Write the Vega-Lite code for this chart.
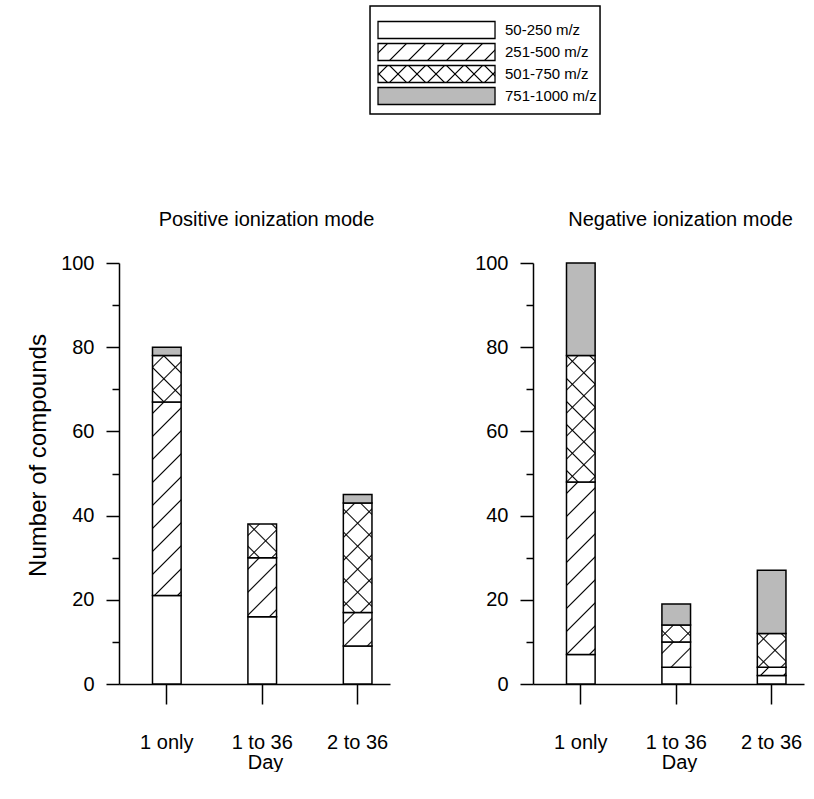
{
  "$schema": "https://vega.github.io/schema/vega-lite/v6.json",
  "padding": {"left": 26, "top": 5, "right": 3, "bottom": 0},
  "background": "white",
  "config": {
    "view": {"stroke": null},
    "font": "Liberation Sans",
    "axis": {"domainColor": "#000", "tickColor": "#000", "labelColor": "#000", "titleColor": "#000", "labelFont": "Liberation Sans", "titleFont": "Liberation Sans", "labelFontSize": 20, "titleFontSize": 20, "titleFontWeight": "normal", "grid": false, "domainWidth": 1.5, "tickWidth": 1.5},
    "title": {"font": "Liberation Sans", "fontSize": 20, "fontWeight": "normal", "color": "#000"},
    "text": {"font": "Liberation Sans"}
  },
  "datasets": {
    "bars": [
      {"mode": "Positive", "day": "1 only", "range": "50-250 m/z", "mz": 50, "n": 21},
      {"mode": "Positive", "day": "1 only", "range": "251-500 m/z", "mz": 251, "n": 46},
      {"mode": "Positive", "day": "1 only", "range": "501-750 m/z", "mz": 501, "n": 11},
      {"mode": "Positive", "day": "1 only", "range": "751-1000 m/z", "mz": 751, "n": 2},
      {"mode": "Positive", "day": "1 to 36", "range": "50-250 m/z", "mz": 50, "n": 16},
      {"mode": "Positive", "day": "1 to 36", "range": "251-500 m/z", "mz": 251, "n": 14},
      {"mode": "Positive", "day": "1 to 36", "range": "501-750 m/z", "mz": 501, "n": 8},
      {"mode": "Positive", "day": "1 to 36", "range": "751-1000 m/z", "mz": 751, "n": 0},
      {"mode": "Positive", "day": "2 to 36", "range": "50-250 m/z", "mz": 50, "n": 9},
      {"mode": "Positive", "day": "2 to 36", "range": "251-500 m/z", "mz": 251, "n": 8},
      {"mode": "Positive", "day": "2 to 36", "range": "501-750 m/z", "mz": 501, "n": 26},
      {"mode": "Positive", "day": "2 to 36", "range": "751-1000 m/z", "mz": 751, "n": 2},
      {"mode": "Negative", "day": "1 only", "range": "50-250 m/z", "mz": 50, "n": 7},
      {"mode": "Negative", "day": "1 only", "range": "251-500 m/z", "mz": 251, "n": 41},
      {"mode": "Negative", "day": "1 only", "range": "501-750 m/z", "mz": 501, "n": 30},
      {"mode": "Negative", "day": "1 only", "range": "751-1000 m/z", "mz": 751, "n": 22},
      {"mode": "Negative", "day": "1 to 36", "range": "50-250 m/z", "mz": 50, "n": 4},
      {"mode": "Negative", "day": "1 to 36", "range": "251-500 m/z", "mz": 251, "n": 6},
      {"mode": "Negative", "day": "1 to 36", "range": "501-750 m/z", "mz": 501, "n": 4},
      {"mode": "Negative", "day": "1 to 36", "range": "751-1000 m/z", "mz": 751, "n": 5},
      {"mode": "Negative", "day": "2 to 36", "range": "50-250 m/z", "mz": 50, "n": 2},
      {"mode": "Negative", "day": "2 to 36", "range": "251-500 m/z", "mz": 251, "n": 2},
      {"mode": "Negative", "day": "2 to 36", "range": "501-750 m/z", "mz": 501, "n": 8},
      {"mode": "Negative", "day": "2 to 36", "range": "751-1000 m/z", "mz": 751, "n": 15}
    ]
  },
  "spacing": 95,
  "vconcat": [
    {
      "width": 680,
      "height": 108,
      "data": {"name": "bars"},
      "transform": [{"aggregate": [{"op": "count", "as": "c"}], "groupby": ["range", "mz"]}],
      "layer": [
        {
          "transform": [{"filter": "datum.mz === 50"}],
          "mark": {"type": "rect", "fill": null, "stroke": "#000", "strokeWidth": 1.5},
          "encoding": {
            "x": {"datum": 0.36915, "type": "quantitative", "scale": {"domain": [0, 1], "nice": false, "zero": false}, "axis": null},
            "x2": {"datum": 0.7074},
            "y": {"value": 0},
            "y2": {"value": "height"}
          }
        },
        {
          "mark": {"type": "rect", "stroke": "#000", "strokeWidth": 1.3, "fill": {"expr": "datum.mz === 751 ? '#bababa' : '#ffffff'"}},
          "encoding": {
            "x": {"datum": 0.38091, "type": "quantitative"},
            "x2": {"datum": 0.55297},
            "y": {"field": "range", "type": "nominal", "sort": ["50-250 m/z", "251-500 m/z", "501-750 m/z", "751-1000 m/z"], "scale": {"paddingInner": 0.227, "paddingOuter": 0.568, "align": 0.62}, "axis": null}
          }
        },
        {
          "transform": [{"filter": "datum.mz === 251 || datum.mz === 501"}],
          "mark": {"type": "rect", "strokeWidth": 0, "fill": {"gradient": "linear", "x1": 0, "y1": 0, "x2": 1.1216, "y2": 0.163, "stops": [
            {"offset": 0.0597, "color": "transparent"}, {"offset": 0.0709, "color": "#000"}, {"offset": 0.08209, "color": "transparent"},
            {"offset": 0.20149, "color": "transparent"}, {"offset": 0.21269, "color": "#000"}, {"offset": 0.22388, "color": "transparent"},
            {"offset": 0.34328, "color": "transparent"}, {"offset": 0.35448, "color": "#000"}, {"offset": 0.36567, "color": "transparent"},
            {"offset": 0.48507, "color": "transparent"}, {"offset": 0.49627, "color": "#000"}, {"offset": 0.50746, "color": "transparent"},
            {"offset": 0.62687, "color": "transparent"}, {"offset": 0.63806, "color": "#000"}, {"offset": 0.64925, "color": "transparent"},
            {"offset": 0.76866, "color": "transparent"}, {"offset": 0.77985, "color": "#000"}, {"offset": 0.79104, "color": "transparent"},
            {"offset": 0.91045, "color": "transparent"}, {"offset": 0.92164, "color": "#000"}, {"offset": 0.93284, "color": "transparent"}
          ]}},
          "encoding": {
            "x": {"datum": 0.38091, "type": "quantitative"},
            "x2": {"datum": 0.55297},
            "y": {"field": "range", "type": "nominal", "sort": ["50-250 m/z", "251-500 m/z", "501-750 m/z", "751-1000 m/z"]}
          }
        },
        {
          "transform": [{"filter": "datum.mz === 501"}],
          "mark": {"type": "rect", "strokeWidth": 0, "fill": {"gradient": "linear", "x1": 0, "y1": 1, "x2": 1.1216, "y2": 0.837, "stops": [
            {"offset": 0.0597, "color": "transparent"}, {"offset": 0.0709, "color": "#000"}, {"offset": 0.08209, "color": "transparent"},
            {"offset": 0.20149, "color": "transparent"}, {"offset": 0.21269, "color": "#000"}, {"offset": 0.22388, "color": "transparent"},
            {"offset": 0.34328, "color": "transparent"}, {"offset": 0.35448, "color": "#000"}, {"offset": 0.36567, "color": "transparent"},
            {"offset": 0.48507, "color": "transparent"}, {"offset": 0.49627, "color": "#000"}, {"offset": 0.50746, "color": "transparent"},
            {"offset": 0.62687, "color": "transparent"}, {"offset": 0.63806, "color": "#000"}, {"offset": 0.64925, "color": "transparent"},
            {"offset": 0.76866, "color": "transparent"}, {"offset": 0.77985, "color": "#000"}, {"offset": 0.79104, "color": "transparent"},
            {"offset": 0.91045, "color": "transparent"}, {"offset": 0.92164, "color": "#000"}, {"offset": 0.93284, "color": "transparent"}
          ]}},
          "encoding": {
            "x": {"datum": 0.38091, "type": "quantitative"},
            "x2": {"datum": 0.55297},
            "y": {"field": "range", "type": "nominal", "sort": ["50-250 m/z", "251-500 m/z", "501-750 m/z", "751-1000 m/z"]}
          }
        },
        {
          "mark": {"type": "text", "align": "left", "baseline": "middle", "fontSize": 15, "color": "#000"},
          "encoding": {
            "x": {"datum": 0.56768, "type": "quantitative"},
            "y": {"field": "range", "type": "nominal", "sort": ["50-250 m/z", "251-500 m/z", "501-750 m/z", "751-1000 m/z"]},
            "text": {"field": "range"}
          }
        }
      ]
    },
    {
      "spacing": 84,
      "hconcat": [
        {
          "width": 271,
          "height": 421,
          "title": {"text": "Positive ionization mode", "offset": 23, "fontSize": 20, "dx": 12},
          "data": {"name": "bars"},
          "transform": [
            {"filter": "datum.mode === 'Positive'"},
            {"stack": "n", "groupby": ["day"], "sort": [{"field": "mz", "order": "ascending"}], "as": ["lo", "hi"]},
            {"filter": "datum.n > 0"}
          ],
          "encoding": {
            "x": {"field": "day", "type": "nominal", "sort": ["1 only", "1 to 36", "2 to 36"], "scale": {"paddingInner": 0.7, "paddingOuter": 0.27, "align": 0.65}, "axis": {"title": "Day", "titleX": 146, "labelAngle": 0, "tickSize": 20, "labelPadding": 28, "titlePadding": 0}},
            "y": {"field": "lo", "type": "quantitative", "scale": {"domain": [0, 100], "nice": false}, "axis": {"title": "Number of compounds", "titleFontSize": 24, "titleY": 192, "values": [0, 10, 20, 30, 40, 50, 60, 70, 80, 90, 100], "labelExpr": "datum.value % 20 === 0 ? datum.label : ''", "tickSize": {"condition": {"test": "datum.value % 20 !== 0", "value": 7}, "value": 13}, "labelPadding": 12, "titlePadding": 10}},
            "y2": {"field": "hi"}
          },
          "layer": [
            {"mark": {"type": "bar", "stroke": "#000", "strokeWidth": 1.5, "fill": {"expr": "datum.mz === 751 ? '#bababa' : '#ffffff'"}}},
            {
              "transform": [{"filter": "datum.mz === 251 || datum.mz === 501"}],
              "mark": {"type": "bar", "strokeWidth": 0, "fill": {"expr": "{gradient:'linear',x1:0,y1:0,x2:28.6*(28.6+4.21*(datum.hi-datum.lo))/(817.96+pow(4.21*(datum.hi-datum.lo),2)),y2:4.21*(datum.hi-datum.lo)*(28.6+4.21*(datum.hi-datum.lo))/(817.96+pow(4.21*(datum.hi-datum.lo),2)),stops:[{offset:min(1,10/(28.6+4.21*(datum.hi-datum.lo))),color:'transparent'},{offset:min(1,11.5/(28.6+4.21*(datum.hi-datum.lo))),color:'#000'},{offset:min(1,13/(28.6+4.21*(datum.hi-datum.lo))),color:'transparent'},{offset:min(1,33/(28.6+4.21*(datum.hi-datum.lo))),color:'transparent'},{offset:min(1,34.5/(28.6+4.21*(datum.hi-datum.lo))),color:'#000'},{offset:min(1,36/(28.6+4.21*(datum.hi-datum.lo))),color:'transparent'},{offset:min(1,56/(28.6+4.21*(datum.hi-datum.lo))),color:'transparent'},{offset:min(1,57.5/(28.6+4.21*(datum.hi-datum.lo))),color:'#000'},{offset:min(1,59/(28.6+4.21*(datum.hi-datum.lo))),color:'transparent'},{offset:min(1,79/(28.6+4.21*(datum.hi-datum.lo))),color:'transparent'},{offset:min(1,80.5/(28.6+4.21*(datum.hi-datum.lo))),color:'#000'},{offset:min(1,82/(28.6+4.21*(datum.hi-datum.lo))),color:'transparent'},{offset:min(1,102/(28.6+4.21*(datum.hi-datum.lo))),color:'transparent'},{offset:min(1,103.5/(28.6+4.21*(datum.hi-datum.lo))),color:'#000'},{offset:min(1,105/(28.6+4.21*(datum.hi-datum.lo))),color:'transparent'},{offset:min(1,125/(28.6+4.21*(datum.hi-datum.lo))),color:'transparent'},{offset:min(1,126.5/(28.6+4.21*(datum.hi-datum.lo))),color:'#000'},{offset:min(1,128/(28.6+4.21*(datum.hi-datum.lo))),color:'transparent'},{offset:min(1,148/(28.6+4.21*(datum.hi-datum.lo))),color:'transparent'},{offset:min(1,149.5/(28.6+4.21*(datum.hi-datum.lo))),color:'#000'},{offset:min(1,151/(28.6+4.21*(datum.hi-datum.lo))),color:'transparent'},{offset:min(1,171/(28.6+4.21*(datum.hi-datum.lo))),color:'transparent'},{offset:min(1,172.5/(28.6+4.21*(datum.hi-datum.lo))),color:'#000'},{offset:min(1,174/(28.6+4.21*(datum.hi-datum.lo))),color:'transparent'},{offset:min(1,194/(28.6+4.21*(datum.hi-datum.lo))),color:'transparent'},{offset:min(1,195.5/(28.6+4.21*(datum.hi-datum.lo))),color:'#000'},{offset:min(1,197/(28.6+4.21*(datum.hi-datum.lo))),color:'transparent'},{offset:min(1,217/(28.6+4.21*(datum.hi-datum.lo))),color:'transparent'},{offset:min(1,218.5/(28.6+4.21*(datum.hi-datum.lo))),color:'#000'},{offset:min(1,220/(28.6+4.21*(datum.hi-datum.lo))),color:'transparent'}]}"}}
            },
            {
              "transform": [{"filter": "datum.mz === 501"}],
              "mark": {"type": "bar", "strokeWidth": 0, "fill": {"expr": "{gradient:'linear',x1:0,y1:1,x2:28.6*(28.6+4.21*(datum.hi-datum.lo))/(817.96+pow(4.21*(datum.hi-datum.lo),2)),y2:1-4.21*(datum.hi-datum.lo)*(28.6+4.21*(datum.hi-datum.lo))/(817.96+pow(4.21*(datum.hi-datum.lo),2)),stops:[{offset:min(1,10/(28.6+4.21*(datum.hi-datum.lo))),color:'transparent'},{offset:min(1,11.5/(28.6+4.21*(datum.hi-datum.lo))),color:'#000'},{offset:min(1,13/(28.6+4.21*(datum.hi-datum.lo))),color:'transparent'},{offset:min(1,33/(28.6+4.21*(datum.hi-datum.lo))),color:'transparent'},{offset:min(1,34.5/(28.6+4.21*(datum.hi-datum.lo))),color:'#000'},{offset:min(1,36/(28.6+4.21*(datum.hi-datum.lo))),color:'transparent'},{offset:min(1,56/(28.6+4.21*(datum.hi-datum.lo))),color:'transparent'},{offset:min(1,57.5/(28.6+4.21*(datum.hi-datum.lo))),color:'#000'},{offset:min(1,59/(28.6+4.21*(datum.hi-datum.lo))),color:'transparent'},{offset:min(1,79/(28.6+4.21*(datum.hi-datum.lo))),color:'transparent'},{offset:min(1,80.5/(28.6+4.21*(datum.hi-datum.lo))),color:'#000'},{offset:min(1,82/(28.6+4.21*(datum.hi-datum.lo))),color:'transparent'},{offset:min(1,102/(28.6+4.21*(datum.hi-datum.lo))),color:'transparent'},{offset:min(1,103.5/(28.6+4.21*(datum.hi-datum.lo))),color:'#000'},{offset:min(1,105/(28.6+4.21*(datum.hi-datum.lo))),color:'transparent'},{offset:min(1,125/(28.6+4.21*(datum.hi-datum.lo))),color:'transparent'},{offset:min(1,126.5/(28.6+4.21*(datum.hi-datum.lo))),color:'#000'},{offset:min(1,128/(28.6+4.21*(datum.hi-datum.lo))),color:'transparent'},{offset:min(1,148/(28.6+4.21*(datum.hi-datum.lo))),color:'transparent'},{offset:min(1,149.5/(28.6+4.21*(datum.hi-datum.lo))),color:'#000'},{offset:min(1,151/(28.6+4.21*(datum.hi-datum.lo))),color:'transparent'},{offset:min(1,171/(28.6+4.21*(datum.hi-datum.lo))),color:'transparent'},{offset:min(1,172.5/(28.6+4.21*(datum.hi-datum.lo))),color:'#000'},{offset:min(1,174/(28.6+4.21*(datum.hi-datum.lo))),color:'transparent'},{offset:min(1,194/(28.6+4.21*(datum.hi-datum.lo))),color:'transparent'},{offset:min(1,195.5/(28.6+4.21*(datum.hi-datum.lo))),color:'#000'},{offset:min(1,197/(28.6+4.21*(datum.hi-datum.lo))),color:'transparent'},{offset:min(1,217/(28.6+4.21*(datum.hi-datum.lo))),color:'transparent'},{offset:min(1,218.5/(28.6+4.21*(datum.hi-datum.lo))),color:'#000'},{offset:min(1,220/(28.6+4.21*(datum.hi-datum.lo))),color:'transparent'}]}"}}
            }
          ]
        },
        {
          "width": 271,
          "height": 421,
          "title": {"text": "Negative ionization mode", "offset": 23, "fontSize": 20, "dx": 12},
          "data": {"name": "bars"},
          "transform": [
            {"filter": "datum.mode === 'Negative'"},
            {"stack": "n", "groupby": ["day"], "sort": [{"field": "mz", "order": "ascending"}], "as": ["lo", "hi"]},
            {"filter": "datum.n > 0"}
          ],
          "encoding": {
            "x": {"field": "day", "type": "nominal", "sort": ["1 only", "1 to 36", "2 to 36"], "scale": {"paddingInner": 0.7, "paddingOuter": 0.27, "align": 0.65}, "axis": {"title": "Day", "titleX": 146, "labelAngle": 0, "tickSize": 20, "labelPadding": 28, "titlePadding": 0}},
            "y": {"field": "lo", "type": "quantitative", "scale": {"domain": [0, 100], "nice": false}, "axis": {"title": null, "values": [0, 10, 20, 30, 40, 50, 60, 70, 80, 90, 100], "labelExpr": "datum.value % 20 === 0 ? datum.label : ''", "tickSize": {"condition": {"test": "datum.value % 20 !== 0", "value": 7}, "value": 13}, "labelPadding": 12}},
            "y2": {"field": "hi"}
          },
          "layer": [
            {"mark": {"type": "bar", "stroke": "#000", "strokeWidth": 1.5, "fill": {"expr": "datum.mz === 751 ? '#bababa' : '#ffffff'"}}},
            {
              "transform": [{"filter": "datum.mz === 251 || datum.mz === 501"}],
              "mark": {"type": "bar", "strokeWidth": 0, "fill": {"expr": "{gradient:'linear',x1:0,y1:0,x2:28.6*(28.6+4.21*(datum.hi-datum.lo))/(817.96+pow(4.21*(datum.hi-datum.lo),2)),y2:4.21*(datum.hi-datum.lo)*(28.6+4.21*(datum.hi-datum.lo))/(817.96+pow(4.21*(datum.hi-datum.lo),2)),stops:[{offset:min(1,10/(28.6+4.21*(datum.hi-datum.lo))),color:'transparent'},{offset:min(1,11.5/(28.6+4.21*(datum.hi-datum.lo))),color:'#000'},{offset:min(1,13/(28.6+4.21*(datum.hi-datum.lo))),color:'transparent'},{offset:min(1,33/(28.6+4.21*(datum.hi-datum.lo))),color:'transparent'},{offset:min(1,34.5/(28.6+4.21*(datum.hi-datum.lo))),color:'#000'},{offset:min(1,36/(28.6+4.21*(datum.hi-datum.lo))),color:'transparent'},{offset:min(1,56/(28.6+4.21*(datum.hi-datum.lo))),color:'transparent'},{offset:min(1,57.5/(28.6+4.21*(datum.hi-datum.lo))),color:'#000'},{offset:min(1,59/(28.6+4.21*(datum.hi-datum.lo))),color:'transparent'},{offset:min(1,79/(28.6+4.21*(datum.hi-datum.lo))),color:'transparent'},{offset:min(1,80.5/(28.6+4.21*(datum.hi-datum.lo))),color:'#000'},{offset:min(1,82/(28.6+4.21*(datum.hi-datum.lo))),color:'transparent'},{offset:min(1,102/(28.6+4.21*(datum.hi-datum.lo))),color:'transparent'},{offset:min(1,103.5/(28.6+4.21*(datum.hi-datum.lo))),color:'#000'},{offset:min(1,105/(28.6+4.21*(datum.hi-datum.lo))),color:'transparent'},{offset:min(1,125/(28.6+4.21*(datum.hi-datum.lo))),color:'transparent'},{offset:min(1,126.5/(28.6+4.21*(datum.hi-datum.lo))),color:'#000'},{offset:min(1,128/(28.6+4.21*(datum.hi-datum.lo))),color:'transparent'},{offset:min(1,148/(28.6+4.21*(datum.hi-datum.lo))),color:'transparent'},{offset:min(1,149.5/(28.6+4.21*(datum.hi-datum.lo))),color:'#000'},{offset:min(1,151/(28.6+4.21*(datum.hi-datum.lo))),color:'transparent'},{offset:min(1,171/(28.6+4.21*(datum.hi-datum.lo))),color:'transparent'},{offset:min(1,172.5/(28.6+4.21*(datum.hi-datum.lo))),color:'#000'},{offset:min(1,174/(28.6+4.21*(datum.hi-datum.lo))),color:'transparent'},{offset:min(1,194/(28.6+4.21*(datum.hi-datum.lo))),color:'transparent'},{offset:min(1,195.5/(28.6+4.21*(datum.hi-datum.lo))),color:'#000'},{offset:min(1,197/(28.6+4.21*(datum.hi-datum.lo))),color:'transparent'},{offset:min(1,217/(28.6+4.21*(datum.hi-datum.lo))),color:'transparent'},{offset:min(1,218.5/(28.6+4.21*(datum.hi-datum.lo))),color:'#000'},{offset:min(1,220/(28.6+4.21*(datum.hi-datum.lo))),color:'transparent'}]}"}}
            },
            {
              "transform": [{"filter": "datum.mz === 501"}],
              "mark": {"type": "bar", "strokeWidth": 0, "fill": {"expr": "{gradient:'linear',x1:0,y1:1,x2:28.6*(28.6+4.21*(datum.hi-datum.lo))/(817.96+pow(4.21*(datum.hi-datum.lo),2)),y2:1-4.21*(datum.hi-datum.lo)*(28.6+4.21*(datum.hi-datum.lo))/(817.96+pow(4.21*(datum.hi-datum.lo),2)),stops:[{offset:min(1,10/(28.6+4.21*(datum.hi-datum.lo))),color:'transparent'},{offset:min(1,11.5/(28.6+4.21*(datum.hi-datum.lo))),color:'#000'},{offset:min(1,13/(28.6+4.21*(datum.hi-datum.lo))),color:'transparent'},{offset:min(1,33/(28.6+4.21*(datum.hi-datum.lo))),color:'transparent'},{offset:min(1,34.5/(28.6+4.21*(datum.hi-datum.lo))),color:'#000'},{offset:min(1,36/(28.6+4.21*(datum.hi-datum.lo))),color:'transparent'},{offset:min(1,56/(28.6+4.21*(datum.hi-datum.lo))),color:'transparent'},{offset:min(1,57.5/(28.6+4.21*(datum.hi-datum.lo))),color:'#000'},{offset:min(1,59/(28.6+4.21*(datum.hi-datum.lo))),color:'transparent'},{offset:min(1,79/(28.6+4.21*(datum.hi-datum.lo))),color:'transparent'},{offset:min(1,80.5/(28.6+4.21*(datum.hi-datum.lo))),color:'#000'},{offset:min(1,82/(28.6+4.21*(datum.hi-datum.lo))),color:'transparent'},{offset:min(1,102/(28.6+4.21*(datum.hi-datum.lo))),color:'transparent'},{offset:min(1,103.5/(28.6+4.21*(datum.hi-datum.lo))),color:'#000'},{offset:min(1,105/(28.6+4.21*(datum.hi-datum.lo))),color:'transparent'},{offset:min(1,125/(28.6+4.21*(datum.hi-datum.lo))),color:'transparent'},{offset:min(1,126.5/(28.6+4.21*(datum.hi-datum.lo))),color:'#000'},{offset:min(1,128/(28.6+4.21*(datum.hi-datum.lo))),color:'transparent'},{offset:min(1,148/(28.6+4.21*(datum.hi-datum.lo))),color:'transparent'},{offset:min(1,149.5/(28.6+4.21*(datum.hi-datum.lo))),color:'#000'},{offset:min(1,151/(28.6+4.21*(datum.hi-datum.lo))),color:'transparent'},{offset:min(1,171/(28.6+4.21*(datum.hi-datum.lo))),color:'transparent'},{offset:min(1,172.5/(28.6+4.21*(datum.hi-datum.lo))),color:'#000'},{offset:min(1,174/(28.6+4.21*(datum.hi-datum.lo))),color:'transparent'},{offset:min(1,194/(28.6+4.21*(datum.hi-datum.lo))),color:'transparent'},{offset:min(1,195.5/(28.6+4.21*(datum.hi-datum.lo))),color:'#000'},{offset:min(1,197/(28.6+4.21*(datum.hi-datum.lo))),color:'transparent'},{offset:min(1,217/(28.6+4.21*(datum.hi-datum.lo))),color:'transparent'},{offset:min(1,218.5/(28.6+4.21*(datum.hi-datum.lo))),color:'#000'},{offset:min(1,220/(28.6+4.21*(datum.hi-datum.lo))),color:'transparent'}]}"}}
            }
          ]
        }
      ]
    }
  ]
}
